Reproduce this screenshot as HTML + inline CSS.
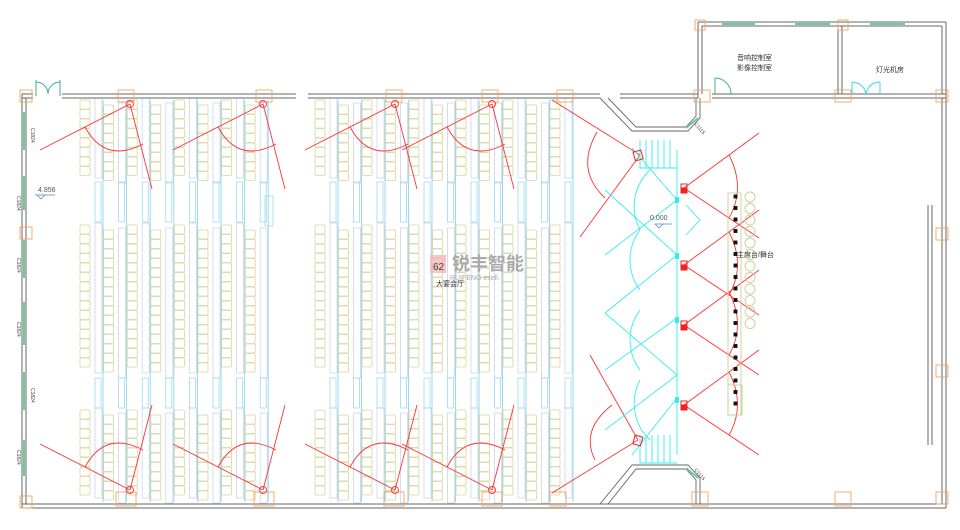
<!DOCTYPE html>
<html><head><meta charset="utf-8"><style>
html,body{margin:0;padding:0;background:#fff;}
svg{display:block;}
text{font-family:"Liberation Sans","Noto Sans CJK SC",sans-serif;}
</style></head><body>
<svg id="s" width="960" height="530" viewBox="0 0 960 530" xmlns="http://www.w3.org/2000/svg">
<g id="seats"></g>
<g fill="none" stroke="#666" stroke-width="1">
<path d="M22,94 H33 M62,94 H296 M308,94 H600 M620,94 H698 M712,94 H946"/>
<path d="M22,98 H33 M62,98 H296 M308,98 H600 M620,98 H698 M712,98 H946"/>
<path d="M22,504 H946 M22,508 H946"/>
<path d="M22,94 V508 M26,98 V504"/>
<path d="M942,98 V504 M946,94 V508"/>
<path d="M698,22 V98 M702,26 V94 M698,22 H946 M702,26 H942 M946,22 V98 M942,26 V94 M838,26 V94 M842,26 V94"/>
<path d="M600,98 L632,131 H688 L700,118 V98 M608,98 L636,127 H686 L696,116 V98" stroke-width="0.9"/>
<path d="M600,504 L632,465 H688 L700,478 V504 M608,504 L636,469 H686 L696,480 V504" stroke-width="0.9"/>
<path d="M932,205 V445 M928,205 V445"/>
</g>
<g stroke="#6c9" stroke-width="2">
<path d="M24,112 V150 M24,176 V210 M24,240 V278 M24,302 V345 M24,372 V410 M24,440 V476"/>
<path d="M722,24 H755 M795,24 H830 M870,24 H905"/>
<path d="M686,128 L698,118 M686,468 L698,478"/>
</g>
<g fill="none" stroke="#4a9" stroke-width="1">
<path d="M36,80 V96 M60,80 V96 M36,82 A12,12 0 0 1 48,94 M60,82 A12,12 0 0 0 48,94"/>
<path d="M715,78 V94 M715,78 A16,16 0 0 1 731,94"/>
</g>
<path d="M852,82 V94 M880,82 V94 M852,82 A14,14 0 0 1 866,94 M880,82 A14,14 0 0 0 866,94" fill="none" stroke="#3dd" stroke-width="1"/>
<g fill="none" stroke="#f4a460" stroke-width="0.9">
<rect x="20" y="90" width="12" height="12"/><rect x="118" y="90" width="16" height="12"/><rect x="256" y="90" width="16" height="12"/>
<rect x="386" y="90" width="16" height="12"/><rect x="482" y="90" width="16" height="12"/><rect x="557" y="90" width="16" height="12"/>
<rect x="694" y="90" width="16" height="12"/><rect x="835" y="90" width="16" height="12"/><rect x="936" y="90" width="12" height="12"/>
<rect x="695" y="20" width="10" height="10"/><rect x="838" y="20" width="10" height="10"/>
<rect x="20" y="227" width="12" height="12"/><rect x="936" y="228" width="12" height="12"/><rect x="936" y="365" width="12" height="12"/>
<rect x="20" y="496" width="12" height="12"/><rect x="116" y="492" width="20" height="14"/><rect x="254" y="492" width="20" height="14"/>
<rect x="384" y="492" width="20" height="14"/><rect x="482" y="492" width="20" height="14"/><rect x="550" y="492" width="16" height="14"/>
<rect x="692" y="492" width="16" height="14"/><rect x="835" y="492" width="16" height="14"/><rect x="936" y="492" width="12" height="12"/>
</g>
<g id="red" fill="none" stroke="#f33" stroke-width="0.9"></g>
<g fill="none" stroke="#3ee" stroke-width="0.9">
<path d="M677,150 V455"/>
<path d="M640,140 V168 H677 M646,140 V168 M652,140 V168 M658,140 V168 M664,140 V168 M670,140 V168"/>
<path d="M640,435 V463 H677 M646,435 V463 M652,435 V463 M658,435 V463 M664,435 V463 M670,435 V463"/>
<path d="M632,148 L677,200 M605,190 L677,255 L605,313 M605,313 L677,375 M605,370 L677,318 M605,255 L677,200 M605,430 L677,375"/>
<path d="M632,455 L677,398"/>
<path d="M650,170 A50,50 0 0 0 640,230 M640,230 A50,50 0 0 0 640,290 M640,310 A50,50 0 0 0 640,370 M640,380 A50,50 0 0 0 650,440"/>
<path d="M686,205 L700,220 L686,235" />
</g>
<g fill="#3ee"><rect x="675" y="197" width="4" height="6"/><rect x="675" y="253" width="4" height="6"/><rect x="675" y="317" width="4" height="6"/><rect x="675" y="397" width="4" height="6"/></g>
<g fill="#e22" stroke="#e22"><rect x="681" y="184" width="6" height="9" fill="none"/><rect x="682" y="188" width="4" height="4"/>
<rect x="681" y="261" width="6" height="9" fill="none"/><rect x="682" y="265" width="4" height="4"/>
<rect x="681" y="321" width="6" height="9" fill="none"/><rect x="682" y="325" width="4" height="4"/>
<rect x="681" y="401" width="6" height="9" fill="none"/><rect x="682" y="405" width="4" height="4"/>
<rect x="634" y="151" width="8" height="9" fill="none" transform="rotate(-15 638 155)"/>
<rect x="634" y="436" width="8" height="9" fill="none" transform="rotate(15 638 440)"/></g>
<g id="stage" fill="none" stroke="#cc9" stroke-width="0.9"></g>
<text x="650" y="220" font-size="7" fill="#555">0.000</text>
<path d="M655,224 H672 M655,224 l4,4 l4,-4" fill="none" stroke="#48c" stroke-width="0.7"/>
<text x="38" y="192" font-size="7" fill="#555">4.856</text>
<path d="M35,195 H55 M37,195 l4,4 l4,-4" fill="none" stroke="#48c" stroke-width="0.7"/>
<g font-size="5" fill="#444">
<text transform="translate(31,128) rotate(90)">C1824</text>
<text transform="translate(17,196) rotate(90)">C1824</text>
<text transform="translate(17,258) rotate(90)">C1824</text>
<text transform="translate(17,322) rotate(90)">C1824</text>
<text transform="translate(31,388) rotate(90)">C1824</text>
<text transform="translate(17,450) rotate(90)">C1824</text>
<text transform="translate(694,124) rotate(50)">C1115</text>
<text transform="translate(694,470) rotate(50)">C1115</text>
</g>
<text x="737" y="60" font-size="7" fill="#333">音响控制室</text>
<text x="737" y="70" font-size="7" fill="#333">影像控制室</text>
<text x="876" y="72" font-size="7" fill="#333">灯光机房</text>
<text x="737" y="257" font-size="7" fill="#333">主席台/舞台</text>
<rect x="430" y="255" width="16" height="18" fill="#f4b8b8" opacity="0.8"/>
<text x="433" y="270" font-size="10" fill="#444">62</text>
<text x="452" y="270" font-size="18" fill="#aaa" font-weight="bold">锐丰智能</text>
<text x="450" y="280" font-size="7" fill="#aaa">RUIFENG intell.</text>
<text x="436" y="286" font-size="7" fill="#333">大宴会厅</text>
</svg>
<script>
var NS="http://www.w3.org/2000/svg";
function el(p,t,a){var e=document.createElementNS(NS,t);for(var k in a)e.setAttribute(k,a[k]);p.appendChild(e);return e;}
var S=document.getElementById('seats');
var cols=[];
for(var i=0;i<8;i++)cols.push(80+i*23.6);
for(var i=0;i<11;i++)cols.push(315+i*23.5);
var blocks=[[100,180],[225,375],[410,500]];
cols.forEach(function(x,idx){
  var off=(idx%2)?5:0;
  blocks.forEach(function(b){
    el(S,'rect',{x:x+15,y:b[0]+off-2,width:7,height:b[1]-b[0],fill:'none',stroke:'#c8d4f4','stroke-width':0.8});
    for(var y=b[0]+off;y+9<=b[1]+off-4;y+=9.5){
      el(S,'rect',{x:x,y:y,width:10,height:9,rx:1.5,fill:'none',stroke:'#d6d69a','stroke-width':0.8});
    }
  });
  el(S,'line',{x1:x+23,y1:100,x2:x+23,y2:502,stroke:'#8fd6ee','stroke-width':0.9});
  el(S,'rect',{x:x+15,y:182,width:6,height:40,fill:'none',stroke:'#8fd6ee','stroke-width':0.7});
  el(S,'rect',{x:x+15,y:378,width:6,height:30,fill:'none',stroke:'#8fd6ee','stroke-width':0.7});
});
el(S,'rect',{x:265,y:196,width:8,height:30,fill:'none',stroke:'#8fd6ee','stroke-width':0.7});
var R=document.getElementById('red');
function cam(cx,cy,top){
  var d=top?1:-1;
  el(R,'line',{x1:cx,y1:cy,x2:cx-90,y2:cy+d*46});
  el(R,'line',{x1:cx,y1:cy,x2:cx+22,y2:cy+d*85});
  el(R,'path',{d:'M'+(cx-45)+','+(cy+d*23)+' Q'+(cx-25)+','+(cy+d*60)+' '+(cx+13)+','+(cy+d*40)});
  el(R,'circle',{cx:cx,cy:cy,r:3.5});
}
[130,263,395,492].forEach(function(x){cam(x,104,true);cam(x,490,false);});
[[684,188],[684,265],[684,325],[684,405]].forEach(function(p){
  el(R,'line',{x1:p[0],y1:p[1],x2:p[0]+75,y2:p[1]-55});
  el(R,'line',{x1:p[0],y1:p[1],x2:p[0]+75,y2:p[1]+50});
  el(R,'path',{d:'M'+(p[0]+45)+','+(p[1]-33)+' Q'+(p[0]+62)+','+p[1]+' '+(p[0]+45)+','+(p[1]+30)});
});
el(R,'line',{x1:552,y1:100,x2:640,y2:155});
el(R,'line',{x1:640,y1:155,x2:580,y2:237});
el(R,'path',{d:'M597,132 Q575,170 605,198'});
el(R,'line',{x1:552,y1:493,x2:638,y2:440});
el(R,'line',{x1:638,y1:440,x2:590,y2:355});
el(R,'path',{d:'M612,405 Q580,430 595,460'});
var G=document.getElementById('stage');
el(G,'rect',{x:728,y:193,width:13,height:222});
for(var y=197;y<330;y+=11.5){el(G,'circle',{cx:750,cy:y,r:5});}
for(var y=197;y<412;y+=11.5){el(G,'rect',{x:734,y:y-2,width:3,height:3,fill:'#111',stroke:'#111'});}
el(G,'rect',{x:728,y:385,width:14,height:30});
</script>
</body></html>
